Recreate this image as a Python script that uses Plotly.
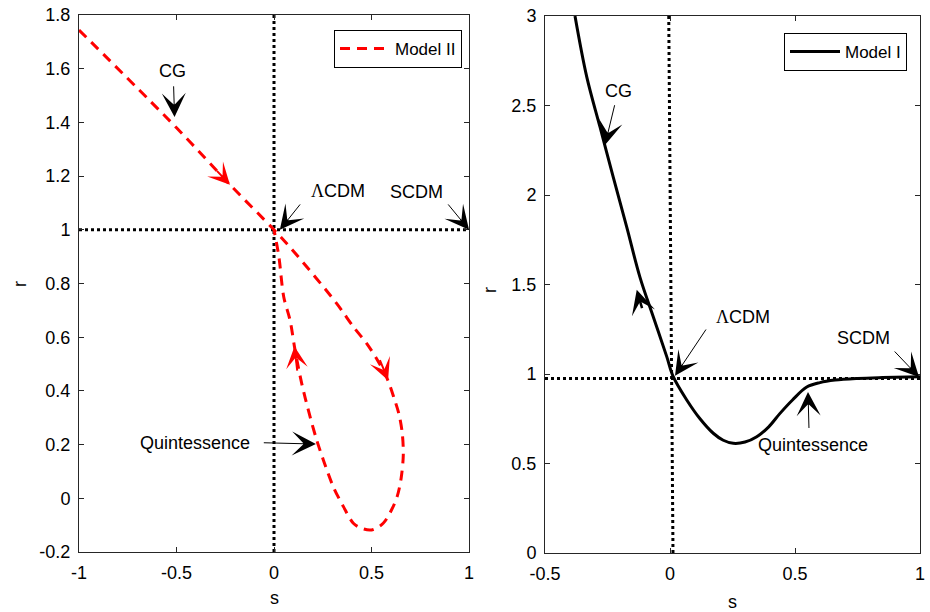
import plotly.graph_objects as go

# ---------------- data ----------------
# Model II trajectory (left panel), s and r values
model2_s = [-1.0, -0.5, -0.226, 0.0, 0.118, 0.321, 0.407, 0.475, 0.53, 0.579, 0.615, 0.642,
            0.658, 0.663, 0.652, 0.633, 0.605, 0.56, 0.5, 0.45, 0.407, 0.356, 0.304, 0.253,
            0.219, 0.185, 0.142, 0.108, 0.082, 0.05, 0.025, 0.0]
model2_r = [1.744, 1.38, 1.168, 1.0, 0.905, 0.726, 0.639, 0.577, 0.515, 0.448, 0.375, 0.31,
            0.24, 0.16, 0.075, 0.01, -0.04, -0.093, -0.118, -0.112, -0.093, -0.031, 0.043,
            0.143, 0.217, 0.304, 0.428, 0.552, 0.664, 0.75, 0.9, 1.0]

# Model I trajectory (right panel)
model1_s = [-0.38, -0.333, -0.28, -0.227, -0.173, -0.12, -0.067, -0.013, 0.013, 0.067, 0.12,
            0.173, 0.213, 0.253, 0.30, 0.347, 0.395, 0.44, 0.49, 0.547, 0.60, 0.66, 0.75,
            0.85, 1.0]
model1_r = [3.0, 2.66, 2.38, 2.10, 1.82, 1.54, 1.32, 1.097, 0.985, 0.855, 0.75, 0.669, 0.63,
            0.613, 0.62, 0.65, 0.705, 0.78, 0.855, 0.927, 0.952, 0.966, 0.975, 0.98, 0.985]

# reference (dotted) lines
left_vline_s = [0.0, 0.0]
left_vline_r = [-0.2, 1.8]
left_hline_s = [-1.0, 1.0]
left_hline_r = [1.0, 1.0]
right_vline_s = [0.012, -0.005]
right_vline_r = [0.0, 3.0]
right_hline_s = [-0.5, 1.0]
right_hline_r = [0.975, 0.975]

# ticks
left_xticks = [-1, -0.5, 0, 0.5, 1]
left_xtick_text = ["-1", "-0.5", "0", "0.5", "1"]
left_yticks = [-0.2, 0, 0.2, 0.4, 0.6, 0.8, 1, 1.2, 1.4, 1.6, 1.8]
left_ytick_text = ["-0.2", "0", "0.2", "0.4", "0.6", "0.8", "1", "1.2", "1.4", "1.6", "1.8"]
right_xticks = [-0.5, 0, 0.5, 1]
right_xtick_text = ["-0.5", "0", "0.5", "1"]
right_yticks = [0, 0.5, 1, 1.5, 2, 2.5, 3]
right_ytick_text = ["0", "0.5", "1", "1.5", "2", "2.5", "3"]

LAMBDA = "<span style='font-family:Liberation Serif'>\u039b</span>CDM"

# ---------------- figure ----------------
W, H = 930, 612
FONT = "Liberation Sans, Arial, sans-serif"
AXC = "#262626"
FS = 18

fig = go.Figure()

dot = dict(color="black", width=3, dash="dot")
fig.add_trace(go.Scatter(x=left_vline_s, y=left_vline_r, mode="lines", line=dot,
                         showlegend=False, xaxis="x", yaxis="y", hoverinfo="skip"))
fig.add_trace(go.Scatter(x=left_hline_s, y=left_hline_r, mode="lines", line=dot,
                         showlegend=False, xaxis="x", yaxis="y", hoverinfo="skip"))
fig.add_trace(go.Scatter(x=right_vline_s, y=right_vline_r, mode="lines", line=dot,
                         showlegend=False, xaxis="x2", yaxis="y2", hoverinfo="skip"))
fig.add_trace(go.Scatter(x=right_hline_s, y=right_hline_r, mode="lines", line=dot,
                         showlegend=False, xaxis="x2", yaxis="y2", hoverinfo="skip"))

fig.add_trace(go.Scatter(x=model2_s, y=model2_r, mode="lines", name="Model II",
                         line=dict(color="red", width=3, dash="10px,7px", shape="spline",
                                   smoothing=0.9),
                         xaxis="x", yaxis="y", legend="legend"))
fig.add_trace(go.Scatter(x=model1_s, y=model1_r, mode="lines", name="Model I",
                         line=dict(color="black", width=3, shape="spline", smoothing=1.0),
                         xaxis="x2", yaxis="y2", legend="legend2"))

annotations = []

def label(text, x, y, xr, yr):
    annotations.append(dict(text=text, x=x, y=y, xref=xr, yref=yr, showarrow=False,
                            font=dict(family=FONT, size=FS, color="black"),
                            xanchor="center", yanchor="middle"))

def pointer(x0, y0, x1, y1, xr, yr, color="black", width=1.0, size=4.0):
    annotations.append(dict(text="", x=x1, y=y1, ax=x0, ay=y0, xref=xr, yref=yr,
                            axref=xr, ayref=yr, showarrow=True, arrowhead=3,
                            arrowsize=size, arrowwidth=width, arrowcolor=color,
                            standoff=0, startstandoff=0))

# left panel labels
label("CG", -0.518, 1.59, "x", "y")
pointer(-0.515, 1.54, -0.51, 1.42, "x", "y")
label(LAMBDA, 0.33, 1.145, "x", "y")
pointer(0.14, 1.10, 0.03, 1.0, "x", "y")
label("SCDM", 0.733, 1.14, "x", "y")
pointer(0.887, 1.10, 1.0, 1.0, "x", "y")
label("Quintessence", -0.405, 0.206, "x", "y")
pointer(-0.06, 0.207, 0.215, 0.202, "x", "y")
# direction arrows on Model II
pointer(-0.3, 1.225, -0.226, 1.168, "x", "y", color="red", width=2, size=1.8)
pointer(0.54, 0.52, 0.585, 0.44, "x", "y", color="red", width=2, size=1.8)
pointer(0.12, 0.47, 0.105, 0.565, "x", "y", color="red", width=2, size=1.8)

# right panel labels
label("CG", -0.208, 2.58, "x2", "y2")
pointer(-0.22, 2.51, -0.26, 2.28, "x2", "y2")
label(LAMBDA, 0.292, 1.32, "x2", "y2")
pointer(0.148, 1.257, 0.02, 0.99, "x2", "y2")
label("SCDM", 0.772, 1.20, "x2", "y2")
pointer(0.893, 1.134, 0.996, 0.983, "x2", "y2")
label("Quintessence", 0.572, 0.603, "x2", "y2")
pointer(0.556, 0.69, 0.552, 0.9, "x2", "y2")
# direction arrow on Model I
pointer(-0.11, 1.36, -0.133, 1.47, "x2", "y2", color="black", width=2.5, size=1.6)

# axis titles
for txt, px, py, ang in [("s", 274, 598, 0), ("r", 20, 284, -90),
                          ("s", 732, 602, 0), ("r", 490, 290, -90)]:
    annotations.append(dict(text=txt, x=px / W, y=1 - py / H, xref="paper", yref="paper",
                            showarrow=False, textangle=ang,
                            font=dict(family=FONT, size=FS, color="black"),
                            xanchor="center", yanchor="middle"))

def axis(domain, rng, tv, tt, anchor):
    return dict(domain=domain, range=rng, tickvals=tv, ticktext=tt, anchor=anchor,
                showline=True, linecolor=AXC, linewidth=1, mirror="ticks",
                ticks="inside", ticklen=5, tickcolor=AXC, showgrid=False,
                zeroline=False, ticklabelstandoff=4, automargin=False,
                tickfont=dict(family=FONT, size=FS, color="black"))

fig.update_layout(
    width=W, height=H,
    margin=dict(l=0, r=0, t=0, b=0, autoexpand=False),
    paper_bgcolor="white", plot_bgcolor="white",
    xaxis=axis([79 / W, 469 / W], [-1, 1], left_xticks, left_xtick_text, "y"),
    yaxis=axis([1 - 552 / H, 1 - 15 / H], [-0.2, 1.8], left_yticks, left_ytick_text, "x"),
    xaxis2=axis([545 / W, 920 / W], [-0.5, 1], right_xticks, right_xtick_text, "y2"),
    yaxis2=axis([1 - 553 / H, 1 - 16 / H], [0, 3], right_yticks, right_ytick_text, "x2"),
    legend=dict(x=462 / W, y=1 - 30 / H, xanchor="right", yanchor="top",
                bgcolor="white", bordercolor="black", borderwidth=1, itemwidth=50,
                font=dict(family=FONT, size=FS - 1, color="black")),
    legend2=dict(x=907 / W, y=1 - 33 / H, xanchor="right", yanchor="top",
                 bgcolor="white", bordercolor="black", borderwidth=1, itemwidth=50,
                 font=dict(family=FONT, size=FS - 1, color="black")),
    annotations=annotations,
    showlegend=True,
)

fig.write_html("out.html")
